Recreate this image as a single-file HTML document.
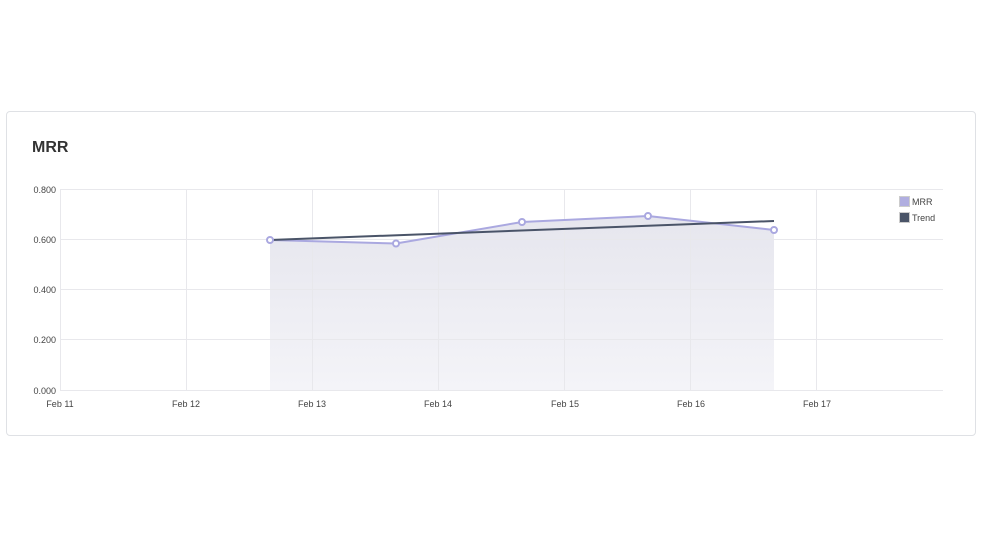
<!DOCTYPE html>
<html><head><style>
body{margin:0;width:983px;height:552px;background:#fff;font-family:"Liberation Sans",sans-serif;position:relative;overflow:hidden}
.card{position:absolute;left:6px;top:111px;width:970px;height:325px;border:1px solid #dfe1e5;border-radius:4px;box-sizing:border-box}
.t{position:absolute;left:32px;top:139px;font-size:16px;font-weight:bold;color:#333}
</style></head><body>
<div class="card"></div>
<div class="t">MRR</div>
<svg width="983" height="552" style="position:absolute;left:0;top:0" font-family="Liberation Sans, sans-serif" font-size="9" fill="#444">
<defs><linearGradient id="g" x1="0" y1="0" x2="0" y2="1"><stop offset="0" stop-color="#e6e6ee"/><stop offset="1" stop-color="#f4f4f8"/></linearGradient></defs>
<path d="M270,240 L396,243.5 L522,222 L648,216 L774,230 L774,390 L270,390Z" fill="url(#g)"/>
<g stroke="#e8e8ec" stroke-width="1">
<line x1="60" y1="189.5" x2="943" y2="189.5"/><line x1="60" y1="239.5" x2="943" y2="239.5"/><line x1="60" y1="289.5" x2="943" y2="289.5"/><line x1="60" y1="339.5" x2="943" y2="339.5"/><line x1="60" y1="390.5" x2="943" y2="390.5"/>
<line x1="60.5" y1="189" x2="60.5" y2="390"/><line x1="186.5" y1="189" x2="186.5" y2="390"/><line x1="312.5" y1="189" x2="312.5" y2="390"/><line x1="438.5" y1="189" x2="438.5" y2="390"/><line x1="564.5" y1="189" x2="564.5" y2="390"/><line x1="690.5" y1="189" x2="690.5" y2="390"/><line x1="816.5" y1="189" x2="816.5" y2="390"/>
</g>
<g text-anchor="end"><text x="56" y="193">0.800</text><text x="56" y="243">0.600</text><text x="56" y="293">0.400</text><text x="56" y="343">0.200</text><text x="56" y="394">0.000</text></g>
<g text-anchor="middle"><text x="60" y="407">Feb 11</text><text x="186" y="407">Feb 12</text><text x="312" y="407">Feb 13</text><text x="438" y="407">Feb 14</text><text x="565" y="407">Feb 15</text><text x="691" y="407">Feb 16</text><text x="817" y="407">Feb 17</text></g>
<polyline points="270,240 396,243.5 522,222 648,216 774,230" fill="none" stroke="#aaa8e0" stroke-width="2"/>
<line x1="270" y1="240" x2="774" y2="221" stroke="#4a5468" stroke-width="2"/>
<g fill="#fff" stroke="#aaa8e0" stroke-width="2"><circle cx="270" cy="240" r="3"/><circle cx="396" cy="243.5" r="3"/><circle cx="522" cy="222" r="3"/><circle cx="648" cy="216" r="3"/><circle cx="774" cy="230" r="3"/></g>
<rect x="899.5" y="196.5" width="10" height="10" fill="#b0aee0" stroke="#ccc"/><text x="912" y="205">MRR</text>
<rect x="899.5" y="212.5" width="10" height="10" fill="#4a5468" stroke="#ccc"/><text x="912" y="221">Trend</text>
</svg>
</body></html>
